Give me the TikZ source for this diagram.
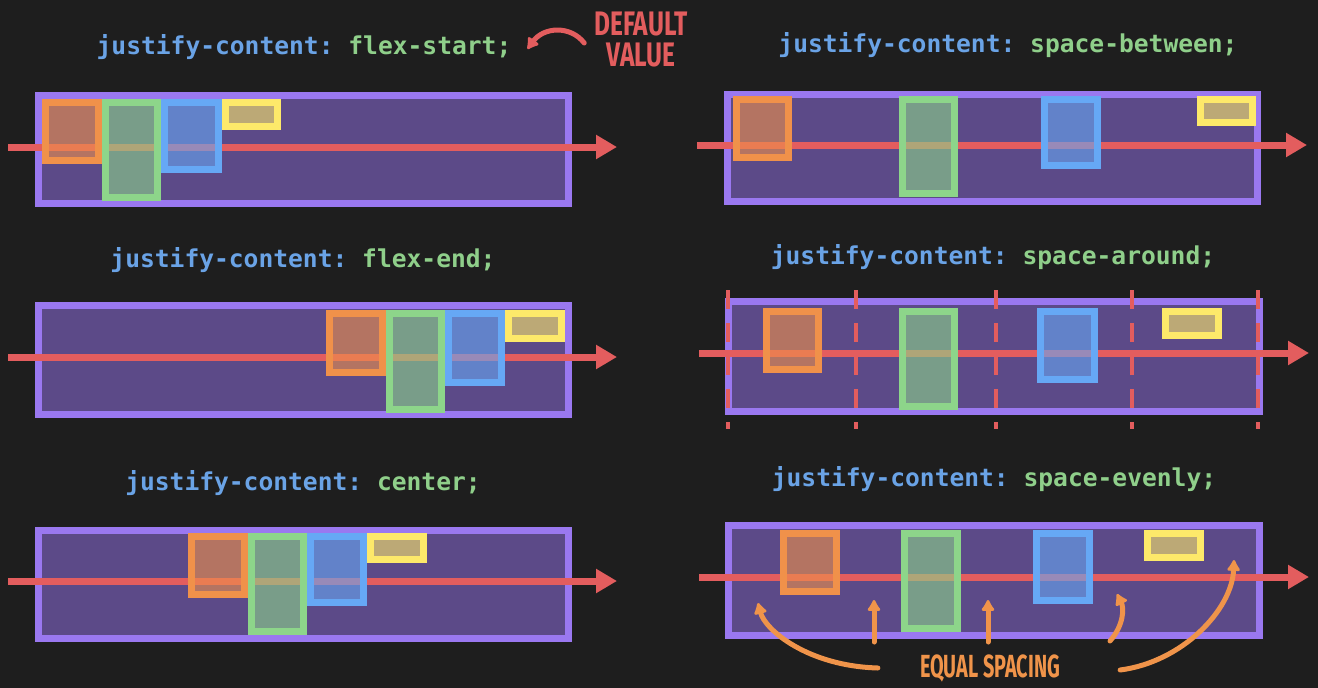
\documentclass[tikz,border=0pt]{standalone}
\usepackage{fontspec}
\usepackage{graphicx}
\setmonofont{DejaVu Sans Mono}
\newfontfamily\handfont{Fira Sans}
\usetikzlibrary{arrows.meta}

\definecolor{bgdark}{HTML}{1E1E1E}
\definecolor{flexborder}{HTML}{9A78F0}
\definecolor{flexfill}{HTML}{5C4A88}
\definecolor{axisred}{HTML}{E35D5E}
\definecolor{itemorange}{HTML}{F0914A}
\definecolor{itemgreen}{HTML}{8DD58A}
\definecolor{itemblue}{HTML}{66A8F5}
\definecolor{itemyellow}{HTML}{FDE96A}
\definecolor{propblue}{HTML}{6AA3E6}
\definecolor{valgreen}{HTML}{8FCF8A}
\definecolor{noteorange}{HTML}{F0944A}

\tikzset{
  panel/.style={draw=flexborder, fill=flexfill, line width=7pt},
  item/.style={draw=#1, fill=#1, fill opacity=.6, line width=7pt},
  mainaxis/.style={draw=axisred, line width=7pt, -{Triangle[length=21pt,width=23pt]}},
  gapline/.style={draw=axisred, line width=4pt, dash pattern=on 19pt off 14pt},
  title/.style={font=\ttfamily\bfseries\fontsize{24.6}{28}\selectfont, inner sep=2pt},
  hand/.style={font=\handfont\bfseries, inner sep=0pt, align=center},
  note/.style={line width=5pt, line cap=round, -{Latex[length=13pt,width=16pt,round]}}
}

\begin{document}
\begin{tikzpicture}[x=1pt,y=-1pt]
\fill[bgdark] (0,0) rectangle (1318,688);
\useasboundingbox (0,0) rectangle (1318,688);

\node[title] (t1) at (304,47) {\textcolor{propblue}{justify-content:} \textcolor{valgreen}{flex-start;}};
\node[title] (t2) at (303,260) {\textcolor{propblue}{justify-content:} \textcolor{valgreen}{flex-end;}};
\node[title] (t3) at (303,483) {\textcolor{propblue}{justify-content:} \textcolor{valgreen}{center;}};
\node[title] (t4) at (1008,45) {\textcolor{propblue}{justify-content:} \textcolor{valgreen}{space-between;}};
\node[title] (t5) at (993,257) {\textcolor{propblue}{justify-content:} \textcolor{valgreen}{space-around;}};
\node[title] (t6) at (994,479) {\textcolor{propblue}{justify-content:} \textcolor{valgreen}{space-evenly;}};

% flex-start
\draw[panel] (38.5,95.5) rectangle (568.5,203.5);
\draw[mainaxis] (8,147) -- (617,147);
\draw[item=itemorange] (45.5,102.5) rectangle (98.5,160.5);
\draw[item=itemgreen] (105.5,102.5) rectangle (157.5,197.5);
\draw[item=itemblue] (164.5,102.5) rectangle (218.5,169.5);
\draw[item=itemyellow] (225.5,102.5) rectangle (277.5,126.5);

% flex-end
\draw[panel] (38.5,305.5) rectangle (568.5,414.5);
\draw[mainaxis] (8,357) -- (617,357);
\draw[item=itemorange] (329.5,313.5) rectangle (382.5,372.5);
\draw[item=itemgreen] (389.5,313.5) rectangle (441.5,409.5);
\draw[item=itemblue] (448.5,313.5) rectangle (501.5,382.5);
\draw[item=itemyellow] (508.5,313.5) rectangle (561.5,338.5);

% center
\draw[panel] (38.5,530.5) rectangle (568.5,638.5);
\draw[mainaxis] (8,581) -- (617,581);
\draw[item=itemorange] (191.5,536.5) rectangle (244.5,594.5);
\draw[item=itemgreen] (251.5,536.5) rectangle (303.5,631.5);
\draw[item=itemblue] (310.5,536.5) rectangle (363.5,602.5);
\draw[item=itemyellow] (370.5,536.5) rectangle (423.5,559.5);

% space-between
\draw[panel] (727.5,94.5) rectangle (1257.5,201.5);
\draw[mainaxis] (697,145) -- (1307,145);
\draw[item=itemorange] (736.5,99.5) rectangle (788.5,157.5);
\draw[item=itemgreen] (902.5,99.5) rectangle (954.5,193.5);
\draw[item=itemblue] (1044.5,99.5) rectangle (1097.5,165.5);
\draw[item=itemyellow] (1200.5,99.5) rectangle (1252.5,122.5);

% space-around
\draw[panel] (728.5,301.5) rectangle (1259.5,411.5);
\foreach \x in {728,856,996,1132,1258}
  \draw[gapline] (\x,290) -- (\x,429);
\draw[mainaxis] (699,353) -- (1309,353);
\draw[item=itemorange] (766.5,311.5) rectangle (818.5,369.5);
\draw[item=itemgreen] (902.5,311.5) rectangle (954.5,406.5);
\draw[item=itemblue] (1040.5,311.5) rectangle (1094.5,379.5);
\draw[item=itemyellow] (1165.5,311.5) rectangle (1218.5,335.5);

% space-evenly
\draw[panel] (728.5,525.5) rectangle (1259.5,635.5);
\draw[mainaxis] (699,577) -- (1309,577);
\draw[item=itemorange] (783.5,533.5) rectangle (836.5,591.5);
\draw[item=itemgreen] (904.5,533.5) rectangle (957.5,628.5);
\draw[item=itemblue] (1036.5,533.5) rectangle (1089.5,600.5);
\draw[item=itemyellow] (1147.5,533.5) rectangle (1200.5,557.5);

\node[hand, text=axisred, font=\handfont\bfseries\fontsize{34}{31}\selectfont] (defval) at (641,40)
  {\scalebox{.72}[1]{DEFAULT}\\\scalebox{.72}[1]{VALUE}};
\draw[note, axisred] ([xshift=-10pt,yshift=-3pt]defval.west) .. controls +(-14,-18) and +(16,-22) .. ([xshift=14pt,yshift=-2pt]t1.east);

\node[hand, text=noteorange, font=\handfont\bfseries\fontsize{32}{34}\selectfont] (eq) at (990,668)
  {\scalebox{.62}[1]{EQUAL SPACING}};
\coordinate (gap1) at (758,603);
\coordinate (gap2) at (874,600);
\coordinate (gap3) at (988,600);
\coordinate (gap4) at (1117,594);
\coordinate (gap5) at (1234,560);
\draw[note, noteorange] ([xshift=-42pt]eq.west) .. controls +(-70,-2) and +(7,27) .. (gap1);
\draw[note, noteorange] (gap2 |- 642,642) -- (gap2);
\draw[note, noteorange] (gap3 |- 642,642) -- (gap3);
\draw[note, noteorange] (1110,641) .. controls +(14,-16) and +(7,14) .. (gap4);
\draw[note, noteorange] ([xshift=60pt,yshift=-2pt]eq.east) .. controls +(62,-8) and +(-2,50) .. (gap5);
\end{tikzpicture}
\end{document}
